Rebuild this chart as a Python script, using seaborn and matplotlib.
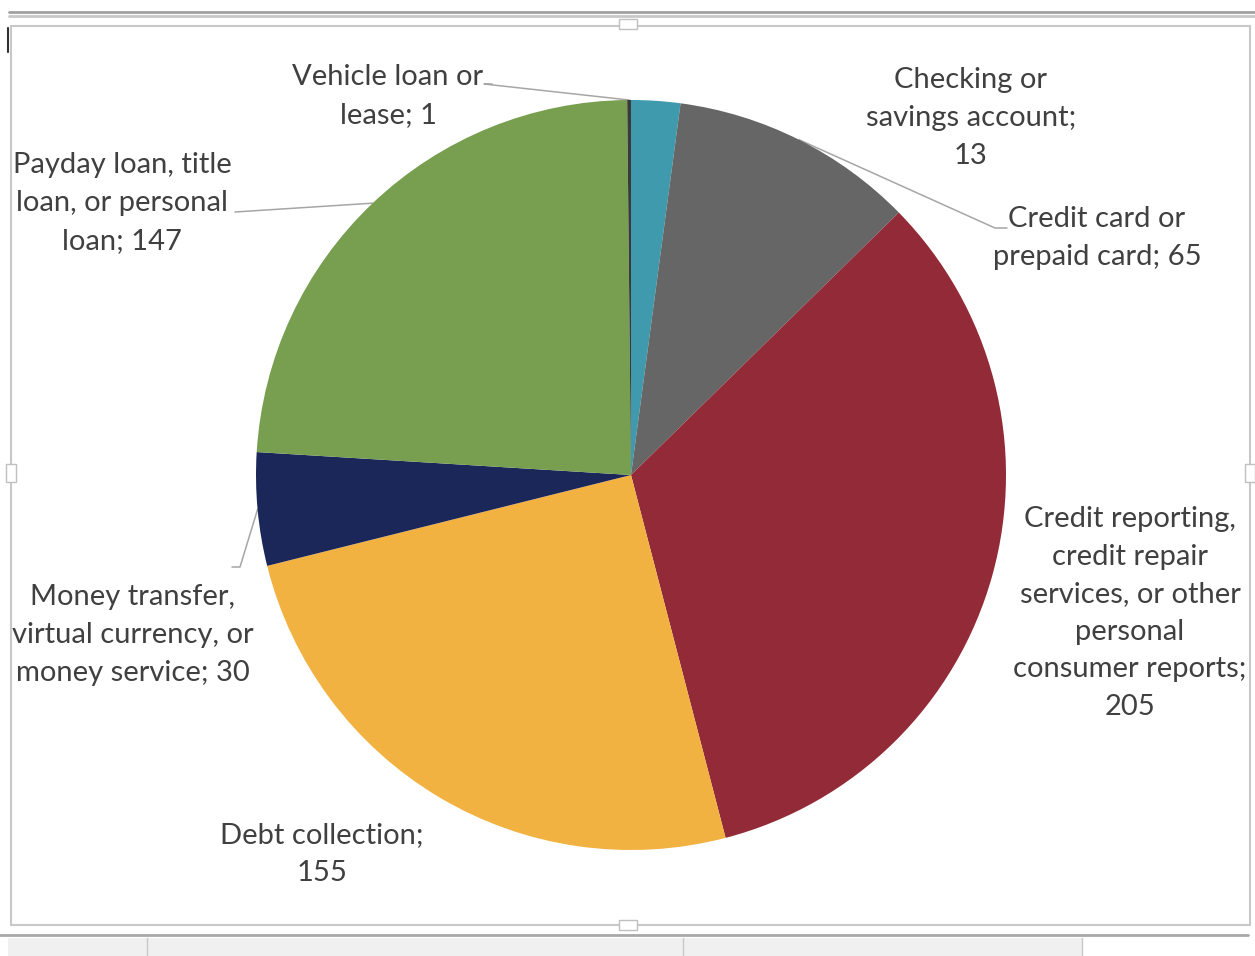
import numpy as np
import matplotlib
matplotlib.use("Agg")
import matplotlib.pyplot as plt
import seaborn as sns
from matplotlib.patches import Rectangle

# Data (Excel order, clockwise from 12 o'clock)
categories = [
    "Checking or\nsavings account;\n13",
    "Credit card or\nprepaid card; 65",
    "Credit reporting,\ncredit repair\nservices, or other\npersonal\nconsumer reports;\n205",
    "Debt collection;\n155",
    "Money transfer,\nvirtual currency, or\nmoney service; 30",
    "Payday loan, title\nloan, or personal\nloan; 147",
    "Vehicle loan or\nlease; 1",
]
values = [13, 65, 205, 155, 30, 147, 1]
colors = ["#3f9aae", "#666666", "#922b37", "#f2b242", "#1b2659", "#779f4f", "#3a3a3a"]

# label centres (pixel coords, y from top) and leader-line ends (None = no line)
label_pos = [(971, 118), (1097, 238), (1130, 613), (322, 854), (133, 635), (122, 203), (388, 96)]
leader_end = [None, (1007, 228), None, None, (232, 567), (235, 212), (492, 84)]
leader_knee = [None, (995, 228), None, None, (240, 567), None, (484, 84)]

W, H = 1255, 956
sns.set_theme(style="white")
plt.rcParams['font.family'] = ['Lato', 'DejaVu Sans']

fig = plt.figure(figsize=(W / 100, H / 100), dpi=100)
ax = fig.add_axes([0, 0, 1, 1])

cx, cy, r = 631, H - 475, 375
wedges, _ = ax.pie(values, colors=colors, startangle=90, counterclock=False,
                   center=(cx, cy), radius=r, frame=True,
                   wedgeprops=dict(linewidth=0))
ax.set_xlim(0, W)
ax.set_ylim(0, H)
ax.set_aspect("equal")
ax.axis("off")

txt_color = "#404040"
for i, w in enumerate(wedges):
    lx, ly = label_pos[i]
    ax.text(lx, H - ly, categories[i], ha="center", va="center", multialignment="center",
            fontsize=21, color=txt_color, linespacing=1.55)
    if leader_end[i] is not None:
        mid = np.deg2rad((w.theta1 + w.theta2) / 2)
        px, py = cx + r * np.cos(mid), cy + r * np.sin(mid)
        pts = [(px, py)]
        if leader_knee[i] is not None:
            pts.append((leader_knee[i][0], H - leader_knee[i][1]))
        pts.append((leader_end[i][0], H - leader_end[i][1]))
        xs, ys = zip(*pts)
        ax.plot(xs, ys, color="#a6a6a6", lw=1.1, zorder=0.5)

# Excel window chrome around the chart
ax.plot([9, W], [H - 12, H - 12], color="#a0a0a0", lw=2)
ax.plot([9, W], [H - 16, H - 16], color="#c8c8c8", lw=2)
ax.add_patch(Rectangle((11, H - 925), 1239, 899, fill=False, ec="#c8c8c8", lw=1.5))
ax.plot([0, 1248], [H - 935, H - 935], color="#a8a8a8", lw=2)
ax.add_patch(Rectangle((8, 0), 1074, H - 938, fc="#f0f0f0", ec="none"))
for xd in (147, 683, 1082):
    ax.plot([xd, xd], [0, H - 938], color="#c8c8c8", lw=1)
for hx, hy, hw, hh in [(619, 19, 18, 10), (619, 920, 18, 10), (6, 464, 10, 18), (1245, 464, 10, 18)]:
    ax.add_patch(Rectangle((hx, H - hy - hh), hw, hh, fc="white", ec="#c0c0c0", lw=1))
ax.plot([8, 8], [H - 28, H - 52], color="#303030", lw=1.5)

fig.savefig("out.png", dpi=100)
